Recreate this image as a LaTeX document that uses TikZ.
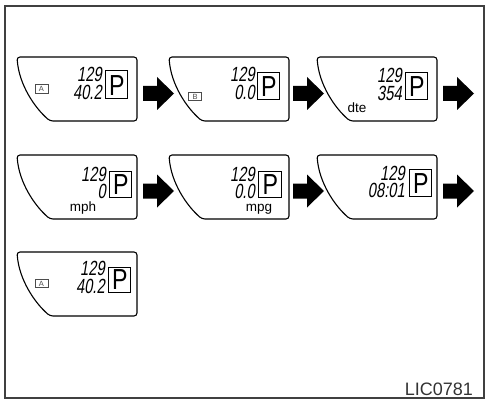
\documentclass[tikz,border=0pt]{standalone}
\usepackage{fontspec}
\setmainfont{Liberation Sans}
\newfontfamily\lcdfont[FakeStretch=0.72,FakeSlant=0.16]{Liberation Sans}
\newfontfamily\pfont[FakeStretch=0.8]{Liberation Sans}
\tikzset{
  panelline/.style={line width=1.1pt, rounded corners=3pt},
  lcd/.style={inner sep=0pt, anchor=south east, align=right,
              font=\lcdfont\fontsize{20.5}{17.8}\selectfont},
  pbox/.style={draw, line width=0.8pt, inner sep=0pt},
  pletter/.style={inner sep=0pt, anchor=base, font=\pfont\fontsize{29}{29}\selectfont},
  unit/.style={inner sep=0pt, anchor=base, font=\fontsize{13.5}{13.5}\selectfont},
  tag/.style={draw=black!70, line width=0.6pt, inner sep=0pt, minimum width=13pt, minimum height=8.5pt,
              text=black!70, font=\fontsize{7.5}{7.5}\selectfont},
  blockarrow/.style={fill=black}
}
% panel outline at origin (#1,#2)
\newcommand\lcdpanel[2]{%
  \draw[panelline] (#1+33,#2+64) .. controls (#1+18,#2+51) and (#1+2,#2+28) .. (#1,#2)
     -- (#1+120,#2) -- (#1+120,#2+64) -- cycle;
}
% P box: name, x1,y1,x2,y2
\newcommand\pdisplay[5]{%
  \draw[pbox] (#2,#3) rectangle (#4,#5);
  \node[pletter] (#1) at ({(#2+#4)/2+0.8},{#5-2.5}) {P};
}
\newcommand\blockarr[2]{%
  \fill[blockarrow] (#1,#2-7.5) -- (#1+14,#2-7.5) -- (#1+14,#2-16.5) -- (#1+31,#2)
     -- (#1+14,#2+16.5) -- (#1+14,#2+7.5) -- (#1,#2+7.5) -- cycle;
}
\begin{document}
\begin{tikzpicture}[x=1pt,y=-1pt]
\useasboundingbox (0,0) rectangle (487,401);
\draw[line width=1.2pt, black!75] (5,6) rectangle (484,398);

% ---- Row 1 ----
\lcdpanel{17}{57}
\node[lcd] (p1a) at (102,100) {129\\40.2};
\pdisplay{p1p}{105}{70}{127}{98}
\node[tag] (p1t) at (41.5,89) {A};

\lcdpanel{169}{57}
\node[lcd] (p2a) at (255,100) {129\\0.0};
\pdisplay{p2p}{257}{72}{279}{99}
\node[tag] (p2t) at (195,96.5) {B};

\lcdpanel{317}{57}
\node[lcd] (p3a) at (402,100.7) {129\\354};
\pdisplay{p3p}{405}{72}{427}{99}
\node[unit] (p3u) at (357,112.5) {dte};

\blockarr{143}{93.5}
\blockarr{293}{93.5}
\blockarr{443}{93.5}

% ---- Row 2 ----
\lcdpanel{17}{155}
\node[lcd] (p4a) at (106,199.3) {129\\0};
\pdisplay{p4p}{109}{171}{131}{197}
\node[unit] (p4u) at (83,211) {mph};

\lcdpanel{169}{155}
\node[lcd] (p5a) at (255,199.3) {129\\0.0};
\pdisplay{p5p}{258}{171}{281}{197}
\node[unit] (p5u) at (259,211.5) {mpg};

\lcdpanel{317}{155}
\node[lcd] (p6a) at (405,198.3) {129\\08:01};
\pdisplay{p6p}{409}{169}{431}{196}

\blockarr{143}{191}
\blockarr{293}{191}
\blockarr{443}{191}

% ---- Row 3 ----
\lcdpanel{17}{252}
\node[lcd] (p7a) at (105,294) {129\\40.2};
\pdisplay{p7p}{108}{267}{130}{292}
\node[tag] (p7t) at (41.5,283.5) {A};

\node[inner sep=0pt, anchor=base east, text=black!80, font=\fontsize{18}{18}\selectfont] (code) at (473,395) {LIC0781};
\end{tikzpicture}
\end{document}
